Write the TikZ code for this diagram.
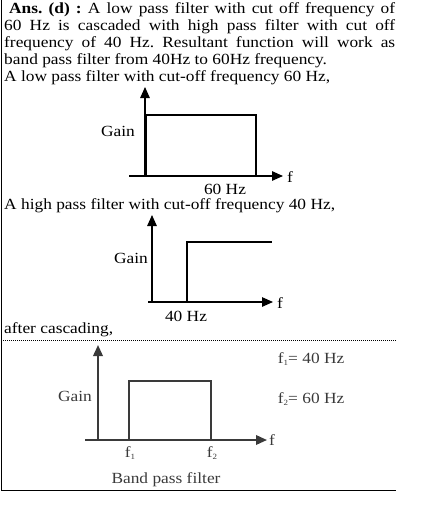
\documentclass[tikz,border=0pt]{standalone}
\usepackage{fontspec}
\setmainfont{Liberation Serif}[FakeStretch=1.12]
\usetikzlibrary{arrows.meta}
\definecolor{plotgray}{RGB}{58,58,58}
\newcommand{\fsub}[1]{f\raisebox{-0.4ex}{\fontsize{8}{8}\selectfont #1}}

\begin{document}
\frenchspacing
\begin{tikzpicture}[x=1pt,y=-1pt,
    axis/.style={-{Triangle[length=11pt,width=9.5pt]}},
    every node/.style={inner sep=0pt,font=\fontsize{15.5}{17}\selectfont},
    txt/.style={anchor=base west},
    lbl/.style={anchor=base}]
    \useasboundingbox (0,0) rectangle (446,528);

    % Frame
    \draw[line width=1pt] (1,0)--(1,490)--(396,490);
    \draw[line width=0.8pt,dash pattern=on 0.8pt off 1.2pt] (1,340)--(396,340);

    % Answer text
    \node[txt] (line1) at (9,13) {\makebox[386pt][s]{\textbf{Ans. (d) :} A low pass filter with cut off frequency of}};
    \node[txt] (line2) at (4,30) {\makebox[391pt][s]{60 Hz is cascaded with high pass filter with cut off}};
    \node[txt] (line3) at (4,47) {\makebox[391pt][s]{frequency of 40 Hz. Resultant function will work as}};
    \node[txt] (line4) at (4,64) {band pass filter from 40Hz to 60Hz frequency.};
    \node[txt] (line5) at (4,81) {A low pass filter with cut-off frequency 60 Hz,};

    % Low pass response
    \draw[line width=1.3pt,axis] (145,176)--(145,87);
    \draw[line width=1.3pt,axis] (129,176)--(283,176);
    \draw[line width=1.3pt] (146,176)--(146,115)--(256,115)--(256,176);
    \node[lbl] (gain1) at (118,136) {Gain};
    \node[lbl] (f1) at (290,182) {f};
    \node[lbl] (cut1) at (225,194) {60 Hz};

    \node[txt] (line6) at (4,209) {A high pass filter with cut-off frequency 40 Hz,};

    % High pass response
    \draw[line width=1.3pt,axis] (152,302)--(152,215);
    \draw[line width=1.3pt,axis] (148,302)--(273,302);
    \draw[line width=1.3pt] (187,302)--(187,242)--(272,242);
    \node[lbl] (gain2) at (131,263) {Gain};
    \node[lbl] (f2) at (280,308) {f};
    \node[lbl] (cut2) at (186,321) {40 Hz};

    \node[txt] (line7) at (4,333) {after cascading,};

    % Band pass response
    \begin{scope}[plotgray,line width=1.9pt,every node/.append style={text=plotgray}]
        \draw[axis] (98,440)--(98,345);
        \draw[axis] (85,440)--(267,440);
        \draw (129,440)--(129,381)--(211,381)--(211,440);
        \node[lbl] (gain3) at (75,401) {Gain};
        \node[lbl] (f3) at (272,445) {f};
        \node[lbl] (lo) at (130,457) {\fsub{1}};
        \node[lbl] (hi) at (212,457) {\fsub{2}};
        \node[lbl] (band) at (166,483) {Band pass filter};
        \node[txt] (lodef) at (277,363) {\fsub{1}= 40 Hz};
        \node[txt] (hidef) at (277,403) {\fsub{2}= 60 Hz};
    \end{scope}
\end{tikzpicture}
\end{document}
